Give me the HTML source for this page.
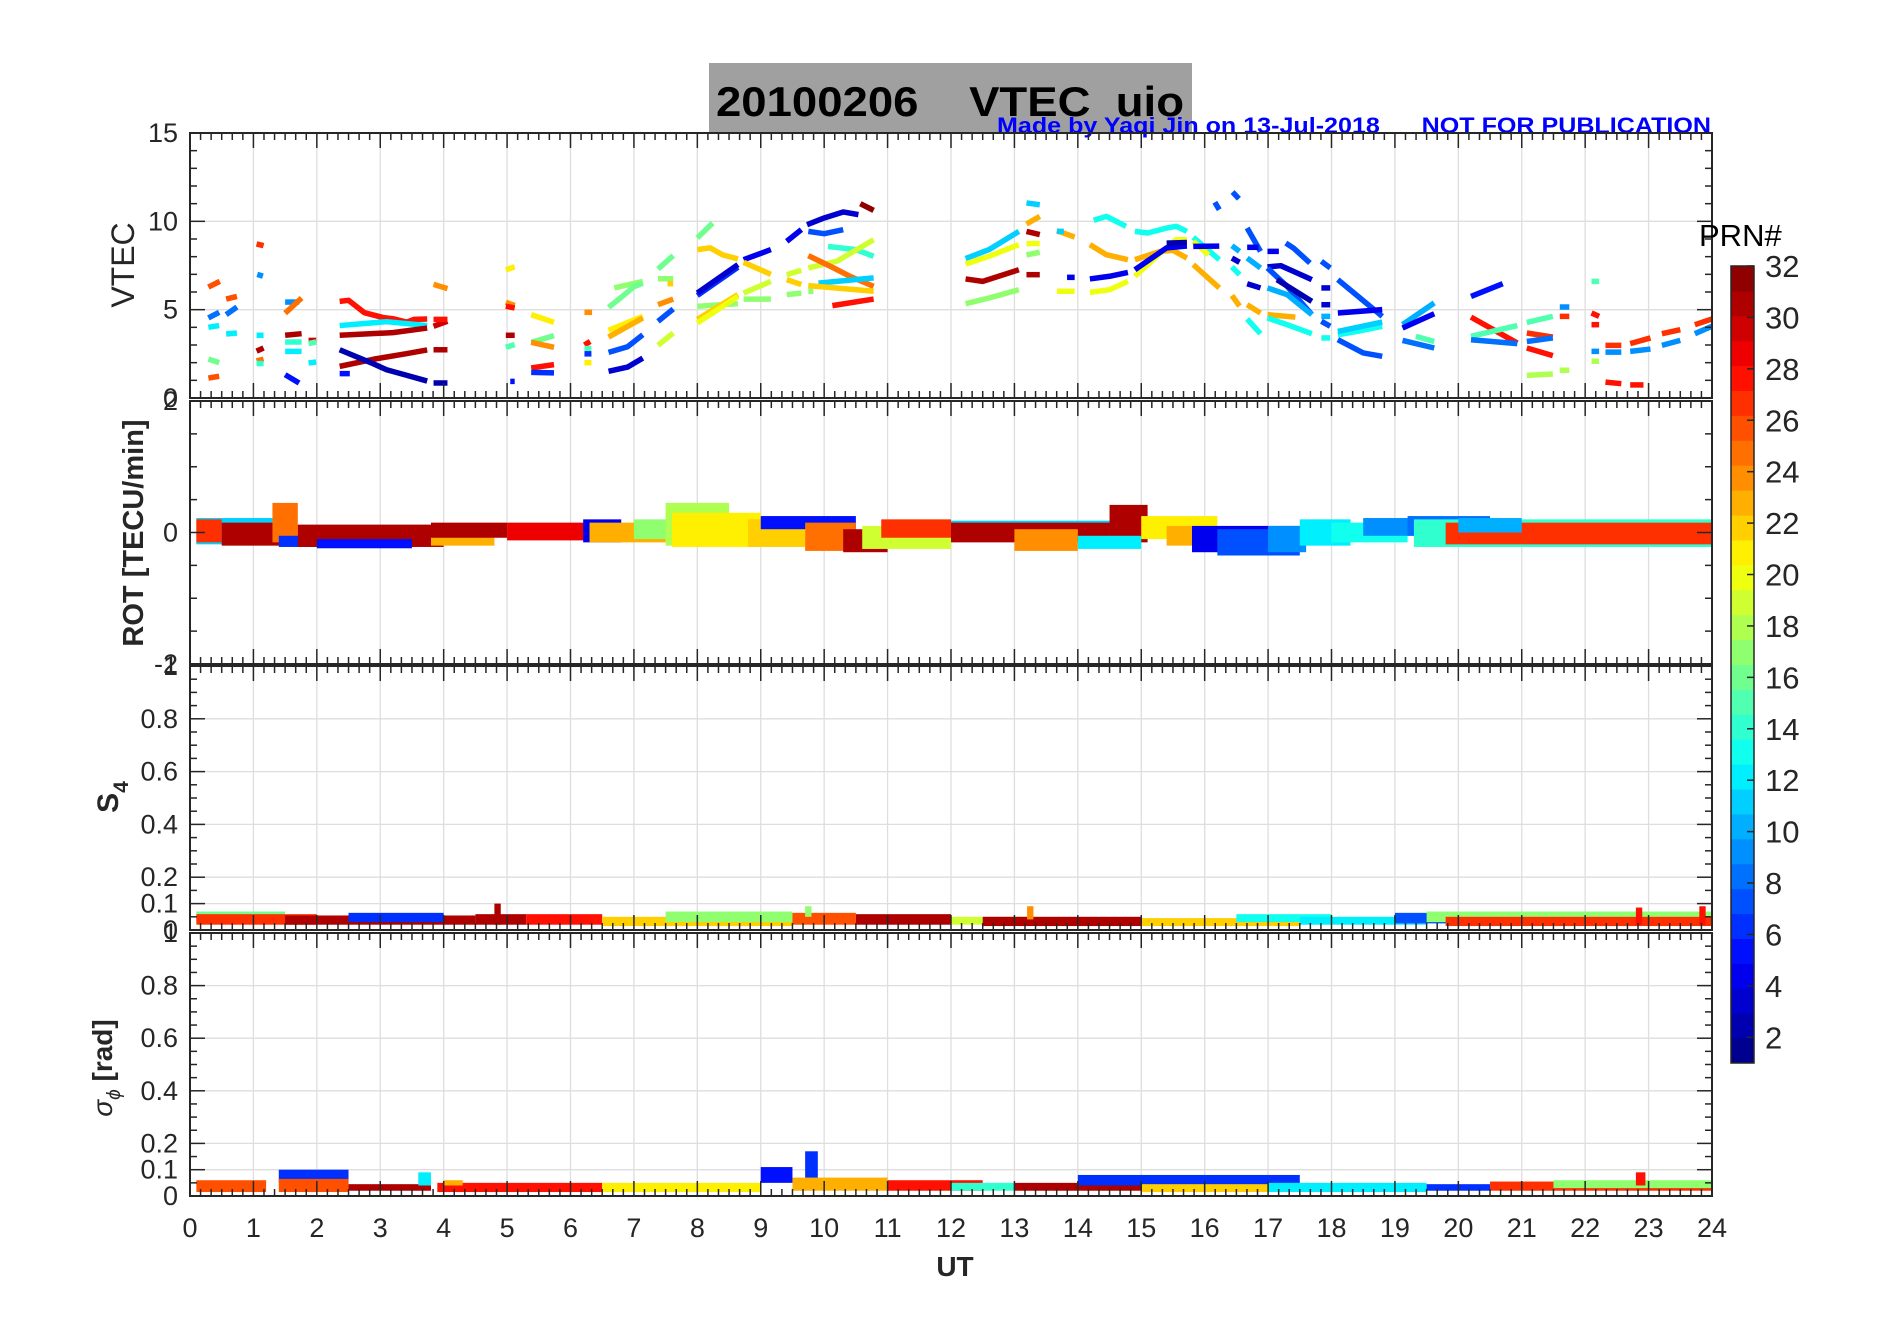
<!DOCTYPE html>
<html><head><meta charset="utf-8"><style>
html,body{margin:0;padding:0;background:#fff;}
svg{display:block;font-family:"Liberation Sans",Arial,sans-serif;}
</style></head><body>
<svg id="fig" width="1902" height="1330" viewBox="0 0 1902 1330" xmlns="http://www.w3.org/2000/svg">
<rect x="709" y="63" width="483" height="70" fill="#a0a0a0"/>
<text x="716" y="116" font-size="42" font-weight="bold" fill="#000" textLength="468" lengthAdjust="spacingAndGlyphs" xml:space="preserve">20100206    VTEC  uio</text>
<text x="997" y="133" font-size="22" font-weight="bold" fill="#0000ff" textLength="714" lengthAdjust="spacingAndGlyphs" xml:space="preserve">Made by Yaqi Jin on 13-Jul-2018      NOT FOR PUBLICATION</text>
<g id="plots"></g>
<text x="955" y="1276" font-size="28" font-weight="bold" text-anchor="middle" fill="#262626">UT</text>
<text transform="translate(134,265) rotate(-90)" font-size="32" text-anchor="middle" fill="#262626">VTEC</text>
<text transform="translate(143,533) rotate(-90)" font-size="29" font-weight="bold" text-anchor="middle" fill="#262626">ROT [TECU/min]</text>
<text transform="translate(118,797) rotate(-90)" font-size="30" font-weight="bold" text-anchor="middle" fill="#262626">S<tspan font-size="21" dy="10">4</tspan></text>
<text transform="translate(112,1068) rotate(-90)" font-size="28" text-anchor="middle" fill="#262626"><tspan font-style="italic">σ</tspan><tspan font-size="19" font-style="italic" dy="8">ϕ</tspan><tspan dy="-8" font-weight="bold"> [rad]</tspan></text>
<text x="1699" y="246" font-size="31" fill="#000">PRN#</text>
<g id="cbar"></g>
</svg>
<script>
// ---- VTEC data: each segment = [prn, h0, v0, h1, v1, ...]
const vtecSegments = [
[26,0.29,6.28,0.47,6.6],[8,0.29,4.53,0.46,4.85],[12,0.29,4.0,0.46,4.1],[16,0.29,2.2,0.46,2.0],[26,0.29,1.13,0.46,1.23],
[26,0.57,5.6,0.74,5.75],[8,0.57,4.72,0.74,5.15],[12,0.57,3.62,0.74,3.68],
[27,1.05,8.72,1.16,8.62],[9,1.06,7.0,1.15,6.9],[12,1.05,3.55,1.16,3.55],[31,1.05,2.65,1.16,2.83],[25,1.05,2.1,1.16,2.2],[14,1.05,1.95,1.16,1.95],
[9,1.5,5.43,1.72,5.43],[25,1.5,4.8,1.76,5.66],[31,1.5,3.55,1.76,3.64],[14,1.5,3.17,1.76,3.17],[12,1.5,2.64,1.76,2.64],[5,1.5,1.32,1.72,0.85],
[30,1.87,3.26,1.99,3.26],[15,1.87,3.08,1.99,3.17],[12,1.87,1.98,1.99,2.04],
[28,2.36,5.47,2.5,5.53,2.75,4.83,3.05,4.55,3.2,4.49,3.42,4.29,3.53,4.45,3.74,4.47],
[12,2.36,4.1,3.1,4.32,3.74,4.1],[31,2.36,3.55,3.2,3.7,3.74,3.96],[31,2.36,1.79,2.9,2.2,3.4,2.5,3.74,2.72],
[2,2.36,2.73,2.85,2.0,3.1,1.6,3.4,1.3,3.74,0.96],[5,2.36,1.38,2.52,1.38],
[30,3.84,4.06,4.06,4.34],[28,3.84,4.45,4.06,4.45],[31,3.84,2.73,4.06,2.73],[2,3.84,0.85,4.06,0.85],[24,3.84,6.43,4.06,6.19],
[21,4.98,7.26,5.12,7.42],[24,4.98,5.42,5.12,5.23],[28,4.98,5.19,5.12,5.1],[31,4.98,3.55,5.12,3.55],[15,4.98,2.87,5.12,3.02],[5,5.05,0.94,5.12,0.94],
[21,5.38,4.72,5.74,4.28],[16,5.38,3.15,5.74,3.53],[24,5.38,3.15,5.74,2.87],[28,5.38,1.7,5.74,1.89],[6,5.38,1.45,5.74,1.42],
[24,6.22,4.85,6.34,4.85],[28,6.22,3.0,6.31,3.2],[15,6.22,2.8,6.33,2.8],[6,6.22,2.5,6.33,2.5],[21,6.22,2.0,6.33,2.0],
[17,6.69,6.23,7.14,6.6],[16,6.6,5.13,6.8,5.7,7.0,6.3,7.14,6.5],[21,6.6,3.83,7.14,4.62],[23,6.6,3.45,7.14,4.53],
[7,6.6,2.58,6.9,2.9,7.14,3.58],[3,6.6,1.51,6.9,1.75,7.14,2.26],
[16,7.38,7.3,7.62,8.06],[17,7.38,6.75,7.62,6.75],[22,7.53,6.47,7.62,6.47],[24,7.38,5.28,7.62,5.6],[7,7.38,4.34,7.62,5.04],[19,7.38,2.98,7.62,3.68],
[16,8.0,9.06,8.24,9.9],[22,8.0,8.4,8.2,8.5,8.4,8.1,8.64,7.87],[6,8.0,5.8,8.64,7.4],[3,8.0,5.94,8.64,7.55],[17,8.0,5.19,8.64,5.34],
[22,8.0,4.45,8.64,5.85],[20,8.0,4.25,8.64,5.75],
[4,8.73,7.83,9.16,8.4],[22,8.73,7.68,9.16,7.0],[19,8.73,5.94,9.16,6.6],[17,8.73,5.6,9.16,5.6],
[4,9.41,8.87,9.64,9.53],[19,9.41,6.98,9.64,7.23],[22,9.41,6.7,9.64,6.42],[17,9.41,5.85,9.64,5.94],[17,9.75,6.04,9.83,6.04],
[3,9.73,9.81,10.0,10.19,10.3,10.53,10.54,10.38],[32,10.57,11.0,10.78,10.62],[7,9.75,9.43,10.0,9.3,10.3,9.53],
[14,10.06,8.58,10.5,8.4,10.78,8.02],[19,9.75,7.36,10.2,7.74,10.78,8.96],[25,9.75,8.06,10.1,7.45,10.4,6.9,10.78,6.32],
[11,9.91,6.5,10.78,6.8],[22,9.75,6.36,10.78,6.04],[28,10.13,5.23,10.78,5.6],
[11,12.23,7.89,12.6,8.4,13.07,9.43],[20,12.23,7.58,12.6,8.02,13.07,8.68],[31,12.23,6.74,12.5,6.6,13.07,7.26],[17,12.23,5.34,12.6,5.66,13.07,6.13],
[11,13.19,11.04,13.4,10.94],[23,13.19,9.85,13.4,10.28],[31,13.19,9.43,13.4,9.25],[20,13.19,8.74,13.4,8.74],[17,13.19,8.1,13.4,8.25],[31,13.19,6.98,13.4,6.98],
[23,13.67,9.47,13.95,9.11],[11,13.67,9.43,13.78,9.43],[4,13.83,6.83,13.95,6.83],[20,13.67,6.04,13.95,6.04],
[13,14.25,10.06,14.45,10.28,14.76,9.72],[23,14.19,8.68,14.45,8.11,14.79,7.83],[4,14.19,6.74,14.5,6.89,14.79,7.11],[20,14.19,5.98,14.5,6.13,14.79,6.6],
[13,14.9,9.43,15.1,9.34,15.4,9.62,15.55,9.72,15.72,9.43],[23,14.9,7.83,15.3,8.3,15.5,8.36,15.72,7.92],
[20,14.9,6.89,15.3,8.2,15.55,8.96,15.72,8.96],[4,14.9,7.26,15.4,8.5,15.72,8.6],[2,15.4,8.77,15.72,8.8],
[13,15.82,9.1,16.23,7.83],[20,15.82,8.87,16.06,8.11],[4,15.82,8.58,16.23,8.6],[23,15.82,7.55,16.23,6.23],
[7,16.16,11.08,16.23,10.66],[7,16.44,11.66,16.54,11.28],[10,16.43,8.62,16.55,8.3],[3,16.43,7.92,16.55,7.68],[13,16.43,7.42,16.55,6.98],[23,16.43,5.8,16.55,5.2],
[7,16.67,9.62,16.88,8.3],[10,16.67,7.92,16.88,7.36],[4,16.67,8.53,16.85,8.53],[3,16.67,6.47,16.88,6.23],[23,16.67,5.28,16.88,4.81],[13,16.67,4.47,16.88,3.64],
[4,16.99,8.3,17.17,8.3],[7,17.28,8.77,17.4,8.49,17.66,7.64],[3,16.99,7.42,17.2,7.49,17.4,7.17,17.69,6.7],[7,16.99,7.36,17.3,6.32,17.69,4.72],
[2,17.14,6.7,17.69,5.47],[10,16.99,6.23,17.3,5.85,17.69,4.72],[23,16.99,4.72,17.43,4.58],[13,16.99,4.53,17.3,4.15,17.69,3.64],
[7,17.84,7.74,17.98,7.36],[3,17.84,6.23,17.98,6.23],[3,17.84,5.28,17.98,5.28],[10,17.84,4.62,17.98,4.62],[7,17.84,4.34,17.98,4.06],[13,17.84,3.4,17.98,3.4],
[7,18.1,6.7,18.8,4.62],[4,18.1,4.81,18.8,5.0],[13,18.1,3.58,18.4,3.77,18.8,4.06],[11,18.1,3.77,18.8,4.3],[7,18.1,3.3,18.5,2.55,18.8,2.36],
[10,19.12,4.15,19.62,5.38],[4,19.12,3.96,19.62,4.77],[8,19.12,3.26,19.62,2.83],[15,19.33,3.49,19.62,3.2],
[5,20.2,5.75,20.7,6.47],[28,20.2,4.58,20.93,3.11],[15,20.2,3.49,20.93,4.1],[8,20.2,3.3,20.93,3.08],
[15,21.08,4.28,21.49,4.62],[27,21.08,3.68,21.49,3.45],[8,21.08,3.2,21.49,3.4],[28,21.08,2.83,21.49,2.4],[18,21.08,1.28,21.49,1.36],
[9,21.6,5.15,21.75,5.15],[27,21.6,4.62,21.75,4.62],[18,21.6,1.57,21.75,1.57],
[15,22.1,6.6,22.22,6.6],[28,22.1,4.81,22.22,4.62],[28,22.1,4.15,22.22,4.15],[9,22.1,2.64,22.22,2.64],[18,22.1,2.08,22.22,2.08],
[27,22.32,2.98,22.57,2.98],[9,22.32,2.6,22.57,2.6],[28,22.32,0.9,22.57,0.81],
[27,22.71,3.08,23.03,3.4],[9,22.71,2.64,23.03,2.77],[28,22.71,0.74,22.92,0.74],
[27,23.21,3.64,23.5,3.87],[9,23.21,2.98,23.5,3.26],
[27,23.73,4.15,24,4.47],[9,23.73,3.64,24,4.06]
];
// ---- ROT bands
const rotT0  = [0.1,0.1,0.5,1.3,1.4,1.7,2.0,3.8,3.8,5.0,6.2,6.3,7.0,7.5,7.6,8.8,9.0,9.7,10.3,10.6,10.9,12.0,12.0,13.0,14.5,14.0,15.0,15.4,15.8,16.2,17.0,17.5,18.0,18.5,19.2,19.3,19.8,20.0];
const rotT1  = [1.3,0.5,1.5,1.7,2.0,4.0,3.5,4.8,5.0,6.3,6.8,7.5,7.6,8.5,9.0,9.7,10.5,10.5,11.0,12.0,12.0,15.0,14.5,14.0,15.1,15.0,16.2,17.0,17.5,17.5,17.6,18.3,19.2,19.8,20.5,24,24,21];
const rotPrn = [11,27,31,25,6,31,5,23,31,29,4,23,17,18,21,22,5,25,31,19,27,11,31,24,31,12,21,23,4,7,9,12,13,9,8,14,27,10];
const rotLo  = [-0.18,-0.15,-0.2,-0.15,-0.22,-0.22,-0.24,-0.2,-0.08,-0.12,-0.15,-0.15,-0.1,-0.2,-0.22,-0.22,0.05,-0.28,-0.3,-0.25,-0.08,-0.12,-0.15,-0.28,-0.15,-0.25,-0.1,-0.2,-0.3,-0.35,-0.3,-0.2,-0.15,-0.05,-0.05,-0.22,-0.18,0.0];
const rotHi  = [0.22,0.2,0.15,0.45,-0.05,0.12,-0.1,0.05,0.15,0.15,0.2,0.15,0.2,0.45,0.3,0.2,0.25,0.15,0.05,0.1,0.2,0.18,0.15,0.05,0.42,-0.05,0.25,0.1,0.1,0.05,0.1,0.2,0.15,0.22,0.25,0.2,0.15,0.22];
// ---- S4 bands
const s4T0  = [0.1,0.1,1.5,2.5,4.5,4.8,5.3,6.5,7.5,9.5,9.7,10.5,12,12.5,13.2,15,16.5,17.5,19.0,19.5,19.8,22.8,23.8];
const s4T1  = [1.5,2,4.5,4,5.3,4.9,6.5,9.5,9.5,10.5,9.8,12,13.2,15,13.3,17.5,18,19.5,20.5,24,24,22.9,23.9];
const s4Prn = [16,27,31,6,31,31,28,22,17,26,17,31,19,31,24,22,13,12,7,17,27,28,28];
const s4Lo  = [0.03,0.02,0.02,0.03,0.02,0.02,0.02,0.015,0.03,0.02,0.05,0.02,0.02,0.015,0.04,0.015,0.03,0.02,0.025,0.03,0.015,0.02,0.02];
const s4Hi  = [0.07,0.06,0.055,0.065,0.06,0.1,0.06,0.05,0.07,0.065,0.09,0.06,0.05,0.05,0.09,0.045,0.06,0.05,0.065,0.07,0.05,0.085,0.09];
// ---- Sigma-phi bands
const sgT0  = [0.1,1.4,1.4,2.5,3.6,3.9,4,6.5,9.0,9.7,9.5,11,12,13,14,15,17,19.5,20.5,21.5,22.8];
const sgT1  = [1.2,2.5,2.5,3.8,3.8,6.5,4.3,9,9.5,9.9,11,12.5,13,15,17.5,17,19.5,20.5,24,24,22.95];
const sgPrn = [26,6,26,31,12,28,23,21,5,6,23,28,14,31,6,22,12,6,27,17,28];
const sgLo  = [0.015,0.05,0.015,0.02,0.04,0.015,0.04,0.015,0.05,0.06,0.02,0.02,0.02,0.02,0.04,0.015,0.015,0.02,0.02,0.03,0.04];
const sgHi  = [0.06,0.1,0.065,0.045,0.09,0.05,0.06,0.05,0.11,0.17,0.07,0.06,0.05,0.05,0.08,0.045,0.05,0.045,0.055,0.06,0.09];
// ---- axis ticks
const xTicks = [0,1,2,3,4,5,6,7,8,9,10,11,12,13,14,15,16,17,18,19,20,21,22,23,24];
const vtecTicks = [0,5,10,15];
const rotTickLabels = [-2,0,2];
const s4Ticks = [0,0.1,0.2,0.4,0.6,0.8];
const cbTicks = [2,4,6,8,10,12,14,16,18,20,22,24,26,28,30,32];

const NS="http://www.w3.org/2000/svg";
const X0=190, X1=1712;
function xs(h){return X0+(X1-X0)*h/24;}
function jet(i){const t=(i-0.5)/32;const c=v=>Math.round(255*Math.max(0,Math.min(1,v)));
 return `rgb(${c(1.5-Math.abs(4*t-3))},${c(1.5-Math.abs(4*t-2))},${c(1.5-Math.abs(4*t-1))})`;}
function mk(tag,attrs,parent){const e=document.createElementNS(NS,tag);for(const k in attrs)e.setAttribute(k,attrs[k]);parent.appendChild(e);return e;}
const plots=document.getElementById('plots');
const panels=[
 {name:'vtec',top:133,bot:398,min:0,max:15,grid:[5,10],minor:[1,2,3,4,6,7,8,9,11,12,13,14],major:vtecTicks,labels:vtecTicks},
 {name:'rot',top:401,bot:664,min:-2,max:2,grid:[],minor:[-1.5,-1,-0.5,0.5,1,1.5],major:rotTickLabels,labels:rotTickLabels},
 {name:'s4',top:666,bot:930,min:0,max:1,grid:[0.1,0.2,0.4,0.6,0.8],minor:[0.05,0.15,0.25,0.3,0.35,0.45,0.5,0.55,0.65,0.7,0.75,0.85,0.9,0.95],major:[0.1,0.2,0.4,0.6,0.8],labels:s4Ticks.concat([1])},
 {name:'sigma',top:933,bot:1196,min:0,max:1,grid:[0.1,0.2,0.4,0.6,0.8],minor:[0.05,0.15,0.25,0.3,0.35,0.45,0.5,0.55,0.65,0.7,0.75,0.85,0.9,0.95],major:[0.1,0.2,0.4,0.6,0.8],labels:s4Ticks.concat([1])}
];
panels.forEach(p=>{
 p.ys=v=>p.bot-(p.bot-p.top)*(v-p.min)/(p.max-p.min);
 const g=mk('g',{},plots);
 
 
 const cp=mk('clipPath',{id:'clip-'+p.name},g);
 mk('rect',{x:X0,y:p.top,width:X1-X0,height:p.bot-p.top},cp);
 xTicks.forEach(h=>{const l=mk('line',{x1:xs(h),x2:xs(h),y1:p.top,y2:p.bot,stroke:'#dedede','stroke-width':1.3},g);
  
  });
 p.grid.forEach(v=>{const l=mk('line',{x1:X0,x2:X1,y1:p.ys(v),y2:p.ys(v),stroke:'#dedede','stroke-width':1.3},g);
  
  });
 p.g=mk('g',{'clip-path':'url(#clip-'+p.name+')'},g);
 p.axg=mk('g',{},plots);
});
function drawAxes(p){
 const g=p.axg;const col='#262626';
 for(let i=0;i<=144;i++){const h=i/6;const len=(i%6===0)?15:7;
  mk('line',{x1:xs(h),x2:xs(h),y1:p.bot,y2:p.bot-len,stroke:col,'stroke-width':1.5},g);
  mk('line',{x1:xs(h),x2:xs(h),y1:p.top,y2:p.top+len,stroke:col,'stroke-width':1.5},g);}
 p.major.forEach(v=>{const y=p.ys(v);mk('line',{x1:X0,x2:X0+15,y1:y,y2:y,stroke:col,'stroke-width':1.5},g);mk('line',{x1:X1,x2:X1-15,y1:y,y2:y,stroke:col,'stroke-width':1.5},g);});
 p.minor.forEach(v=>{const y=p.ys(v);mk('line',{x1:X0,x2:X0+7,y1:y,y2:y,stroke:col,'stroke-width':1.5},g);mk('line',{x1:X1,x2:X1-7,y1:y,y2:y,stroke:col,'stroke-width':1.5},g);});
 const b=mk('rect',{x:X0,y:p.top,width:X1-X0,height:p.bot-p.top,fill:'none',stroke:col,'stroke-width':2},g);
 
 
 p.labels.forEach(v=>{const t=mk('text',{x:178,y:p.ys(v)+9,'font-size':27,'text-anchor':'end',fill:col},g);
  t.textContent=String(v);
  
  });
}
// VTEC lines
const pv=panels[0];
vtecSegments.forEach(s=>{const pts=[];for(let i=1;i<s.length;i+=2)pts.push(xs(s[i])+','+pv.ys(s[i+1]));
 const l=mk('polyline',{points:pts.join(' '),fill:'none',stroke:jet(s[0]),'stroke-width':5.5,'stroke-linejoin':'round'},pv.g);
 
 });
function bands(p,t0,t1,prn,lo,hi,nm){
 for(let i=0;i<t0.length;i++){const r=mk('rect',{x:xs(t0[i]),width:xs(t1[i])-xs(t0[i]),y:p.ys(hi[i]),height:p.ys(lo[i])-p.ys(hi[i]),fill:jet(prn[i])},p.g);
  
  }
}
bands(panels[1],rotT0,rotT1,rotPrn,rotLo,rotHi,'rot-band');
bands(panels[2],s4T0,s4T1,s4Prn,s4Lo,s4Hi,'s4-band');
bands(panels[3],sgT0,sgT1,sgPrn,sgLo,sgHi,'sigma-band');
panels.forEach(drawAxes);
// x tick labels
xTicks.forEach(h=>{const t=mk('text',{x:xs(h),y:1237,'font-size':27,'text-anchor':'middle',fill:'#262626'},plots);
 t.textContent=String(h);
 
 });
// colorbar
const cb=document.getElementById('cbar');
const CT=266,CB=1063,CX=1731,CW=23,ch=(CB-CT)/32;
for(let i=1;i<=32;i++){const r=mk('rect',{x:CX,y:CB-i*ch,width:CW,height:ch+0.5,fill:jet(i)},cb);
 
 }
const cbb=mk('rect',{x:CX,y:CT,width:CW,height:CB-CT,fill:'none',stroke:'#262626','stroke-width':1.5},cb);


cbTicks.forEach(k=>{const y=CB-(CB-CT)*(k-1)/31;
 mk('line',{x1:CX+CW-7,x2:CX+CW,y1:y,y2:y,stroke:'#262626','stroke-width':1.5},cb);
 const t=mk('text',{x:1765,y:y+11,'font-size':31,fill:'#262626'},cb);
 t.textContent=String(k);
 
 });
</script>
</body></html>
